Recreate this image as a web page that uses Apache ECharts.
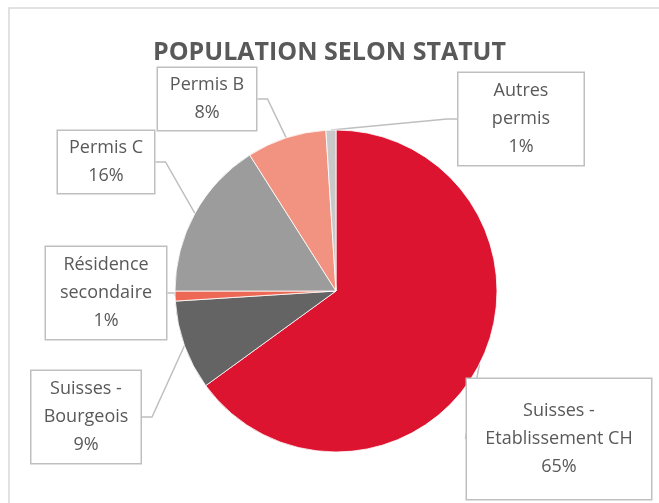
<!DOCTYPE html>
<html>
<head>
<meta charset="utf-8">
<script src="https://cdn.jsdelivr.net/npm/echarts@6/dist/echarts.min.js"></script>
<style>
  html, body { margin: 0; padding: 0; background: #fff; }
  #chart { width: 659px; height: 503px; }
</style>
</head>
<body>
<div id="chart"></div>
<script>
// population par statut (en %)
var categories = ['Suisses - Etablissement CH', 'Suisses - Bourgeois', 'Résidence secondaire', 'Permis C', 'Permis B', 'Autres permis'];
var labelNames = ['Suisses -\nEtablissement CH', 'Suisses -\nBourgeois', 'Résidence\nsecondaire', 'Permis C', 'Permis B', 'Autres\npermis'];
var values = [65, 9, 1, 16, 8, 1];
var colors = ['#DC1430', '#646464', '#EE6955', '#9B9C9B', '#F29382', '#C9C9C9'];

// callout boxes: center x, y, content width, vertical padding
var boxes = [
  [559, 439, 176, 18],
  [86, 417, 101, 4],
  [106, 293, 112, 4],
  [106, 162, 88, 3],
  [207, 99, 90, 3],
  [521, 119, 117, 4]
];

var FONT = '"Open Sans", sans-serif';

var seriesData = [];
for (var i = 0; i < categories.length; i++) {
  seriesData.push({
    name: categories[i],
    value: values[i],
    itemStyle: { color: colors[i] },
    label: { width: boxes[i][2], padding: [boxes[i][3], 4] }
  });
}

var dom = document.getElementById('chart');
var myChart = echarts.init(dom);

var option = {
  animation: false,
  title: {
    text: 'POPULATION SELON STATUT',
    left: 'center',
    top: 35,
    textStyle: { fontFamily: FONT, fontSize: 25, fontWeight: 'bold', color: '#595959' }
  },
  graphic: [{
    type: 'rect',
    shape: { x: 9, y: 8, width: 700, height: 600 },
    style: { fill: 'none', stroke: '#D9D9D9', lineWidth: 1.5 },
    silent: true
  }],
  series: [{
    type: 'pie',
    center: [336, 291],
    radius: 161,
    startAngle: 90,
    clockwise: true,
    data: seriesData,
    itemStyle: { borderColor: '#fff', borderWidth: 0.8 },
    label: {
      show: true,
      formatter: function(p) {
        return labelNames[p.dataIndex] + '\n' + Math.round(p.percent) + '%';
      },
      fontFamily: FONT,
      fontSize: 18,
      lineHeight: 28,
      color: '#595959',
      align: 'center',
      backgroundColor: '#fff',
      borderColor: '#BFBFBF',
      borderWidth: 1.5
    },
    labelLine: {
      show: true,
      length: 10,
      length2: 10,
      lineStyle: { color: '#BFBFBF', width: 1.5 }
    },
    labelLayout: function(params) {
      var b = boxes[params.dataIndex];
      return { x: b[0], y: b[1], align: 'center', verticalAlign: 'middle' };
    }
  }]
};

if (option && typeof option === "object") {
  myChart.setOption(option, true);
}
</script>
</body>
</html>
